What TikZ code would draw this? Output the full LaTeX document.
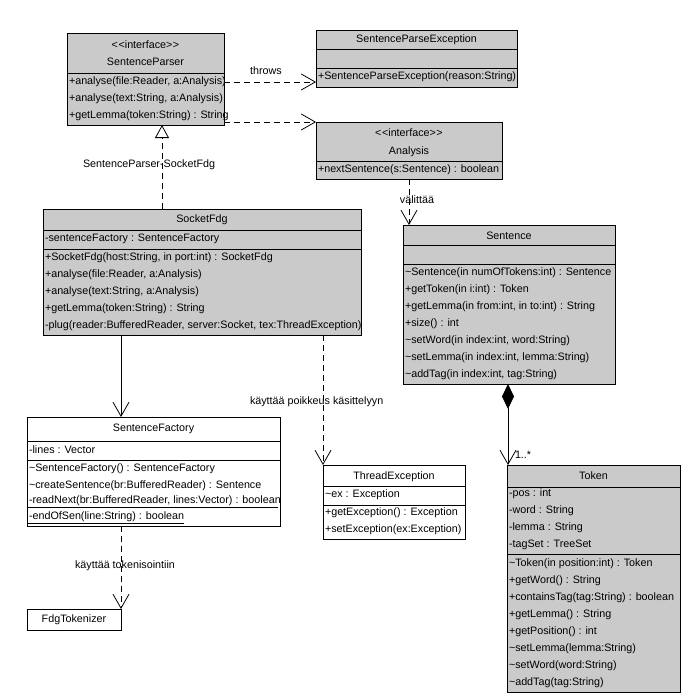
\documentclass[tikz,border=0pt]{standalone}
\usepackage{fontspec}
\setmainfont{Liberation Sans}
\usetikzlibrary{arrows.meta,calc}
\definecolor{boxgray}{RGB}{202,202,202}
\newcommand{\stereo}[1]{\textless\kern0.6pt\textless#1\textgreater\kern0.6pt\textgreater}
\begin{document}
\begin{tikzpicture}[x=1pt,y=-1pt,
  font=\fontsize{10.75}{12}\selectfont,
  box/.style={draw=black, line width=0.8pt, anchor=north west, inner sep=0pt, outer sep=0pt},
  gbox/.style={box, fill=boxgray},
  wbox/.style={box, fill=white},
  txt/.style={anchor=west, inner sep=0pt, outer sep=0pt},
  ctxt/.style={anchor=center, inner sep=0pt, outer sep=0pt},
  lbl/.style={anchor=center, inner sep=0pt, outer sep=0pt},
  sepline/.style={line width=0.8pt},
  vtip/.tip={Straight Barb[length=14pt,width=16pt,line width=0.8pt]},
  dep/.style={draw, line width=0.8pt, dash pattern=on 6pt off 4pt, -vtip},
  assoc/.style={draw, line width=0.8pt, -vtip},
  realize/.style={draw, line width=0.8pt, dash pattern=on 6pt off 4pt, -{Triangle[length=13pt,width=14pt,fill=white,line width=0.8pt]}},
  compose/.style={draw, line width=0.8pt, {Diamond[length=25pt,width=12pt,fill=black]}-vtip}
]
\useasboundingbox (0,0) rectangle (684,696);

% ---------- SentenceParser ----------
\node[gbox, minimum width=157pt, minimum height=92pt] (sp) at (67,33) {};
\node[ctxt] (sp-st) at (145.5,45) {\stereo{interface}};
\node[ctxt] (sp-n) at (145.5,62) {SentenceParser};
\draw[sepline] ($(sp.north west)+(0,40)$) -- ($(sp.north east)+(0,40)$);
\node[txt] (sp-m1) at (69,82) {+analyse(file:Reader, a:Analysis)};
\node[txt] (sp-m2) at (69,99) {+analyse(text:String, a:Analysis)};
\node[txt] (sp-m3) at (69,116) {+getLemma(token:String) : String};

% ---------- SentenceParseException ----------
\node[gbox, minimum width=201pt, minimum height=57pt] (spe) at (316,30) {};
\node[ctxt] (spe-n) at (416.5,40) {SentenceParseException};
\draw[sepline] ($(spe.north west)+(0,19)$) -- ($(spe.north east)+(0,19)$);
\draw[sepline] ($(spe.north west)+(0,38)$) -- ($(spe.north east)+(0,38)$);
\node[txt] (spe-m1) at (318,77) {+SentenceParseException(reason:String)};

% ---------- Analysis ----------
\node[gbox, minimum width=186pt, minimum height=57pt] (an) at (316,122) {};
\node[ctxt] (an-st) at (409,133) {\stereo{interface}};
\node[ctxt] (an-n) at (409,152) {Analysis};
\draw[sepline] ($(an.north west)+(0,39)$) -- ($(an.north east)+(0,39)$);
\node[txt] (an-m1) at (318,170) {+nextSentence(s:Sentence) : boolean};

% ---------- SocketFdg ----------
\node[gbox, minimum width=318pt, minimum height=126pt] (sf) at (43,209) {};
\node[ctxt] (sf-n) at (202,220) {SocketFdg};
\draw[sepline] ($(sf.north west)+(0,21)$) -- ($(sf.north east)+(0,21)$);
\node[txt] (sf-a1) at (45,239) {-sentenceFactory : SentenceFactory};
\draw[sepline] ($(sf.north west)+(0,40)$) -- ($(sf.north east)+(0,40)$);
\node[txt] (sf-m1) at (45,258) {+SocketFdg(host:String, in port:int) : SocketFdg};
\node[txt] (sf-m2) at (45,275) {+analyse(file:Reader, a:Analysis)};
\node[txt] (sf-m3) at (45,292) {+analyse(text:String, a:Analysis)};
\node[txt] (sf-m4) at (45,309) {+getLemma(token:String) : String};
\node[txt] (sf-m5) at (45,326) {-plug(reader:BufferedReader, server:Socket, tex:ThreadException)};

% ---------- Sentence ----------
\node[gbox, minimum width=212pt, minimum height=159pt] (se) at (403,225) {};
\node[ctxt] (se-n) at (509,236) {Sentence};
\draw[sepline] ($(se.north west)+(0,20)$) -- ($(se.north east)+(0,20)$);
\draw[sepline] ($(se.north west)+(0,39)$) -- ($(se.north east)+(0,39)$);
\node[txt] (se-m1) at (405,273) {\textasciitilde Sentence(in numOfTokens:int) : Sentence};
\node[txt] (se-m2) at (405,290) {+getToken(in i:int) : Token};
\node[txt] (se-m3) at (405,307) {+getLemma(in from:int, in to:int) : String};
\node[txt] (se-m4) at (405,324) {+size() : int};
\node[txt] (se-m5) at (405,341) {\textasciitilde setWord(in index:int, word:String)};
\node[txt] (se-m6) at (405,358) {\textasciitilde setLemma(in index:int, lemma:String)};
\node[txt] (se-m7) at (405,375) {\textasciitilde addTag(in index:int, tag:String)};

% ---------- SentenceFactory ----------
\node[wbox, minimum width=253pt, minimum height=109pt] (sfac) at (27,417) {};
\node[ctxt] (sfac-n) at (153.5,429) {SentenceFactory};
\draw[sepline] ($(sfac.north west)+(0,24)$) -- ($(sfac.north east)+(0,24)$);
\node[txt] (sfac-a1) at (29,450) {-lines : Vector};
\draw[sepline] ($(sfac.north west)+(0,43)$) -- ($(sfac.north east)+(0,43)$);
\node[txt] (sfac-m1) at (29,469) {\textasciitilde SentenceFactory() : SentenceFactory};
\node[txt] (sfac-m2) at (29,486) {\textasciitilde createSentence(br:BufferedReader) : Sentence};
\node[txt] (sfac-m3) at (29,501) {-readNext(br:BufferedReader, lines:Vector) : boolean};
\node[txt] (sfac-m4) at (29,517) {-endOfSen(line:String) : boolean};
\draw[sepline] (sfac-m3.south west) ++(-2,1.5) -- ($(sfac-m3.south west -| sfac.east)+(-2,1.5)$);
\draw[sepline] (sfac-m4.south west) ++(-2,1.5) -- ($(sfac-m4.south east)+(0,1.5)$);

% ---------- ThreadException ----------
\node[wbox, minimum width=142pt, minimum height=74pt] (te) at (323,465) {};
\node[ctxt] (te-n) at (394,477) {ThreadException};
\draw[sepline] ($(te.north west)+(0,21)$) -- ($(te.north east)+(0,21)$);
\node[txt] (te-a1) at (325,495) {\textasciitilde ex : Exception};
\draw[sepline] ($(te.north west)+(0,40)$) -- ($(te.north east)+(0,40)$);
\node[txt] (te-m1) at (325,513) {+getException() : Exception};
\node[txt] (te-m2) at (325,530) {+setException(ex:Exception)};

% ---------- Token ----------
\node[gbox, minimum width=173pt, minimum height=227pt] (tok) at (507,465) {};
\node[ctxt] (tok-n) at (593.5,476) {Token};
\draw[sepline] ($(tok.north west)+(0,22)$) -- ($(tok.north east)+(0,22)$);
\node[txt] (tok-a1) at (509,494) {-pos : int};
\node[txt] (tok-a2) at (509,511) {-word : String};
\node[txt] (tok-a3) at (509,528) {-lemma : String};
\node[txt] (tok-a4) at (509,545) {-tagSet : TreeSet};
\draw[sepline] ($(tok.north west)+(0,89)$) -- ($(tok.north east)+(0,89)$);
\node[txt] (tok-m1) at (509,564) {\textasciitilde Token(in position:int) : Token};
\node[txt] (tok-m2) at (509,581) {+getWord() : String};
\node[txt] (tok-m3) at (509,598) {+containsTag(tag:String) : boolean};
\node[txt] (tok-m4) at (509,615) {+getLemma() : String};
\node[txt] (tok-m5) at (509,632) {+getPosition() : int};
\node[txt] (tok-m6) at (509,649) {\textasciitilde setLemma(lemma:String)};
\node[txt] (tok-m7) at (509,666) {\textasciitilde setWord(word:String)};
\node[txt] (tok-m8) at (509,683) {\textasciitilde addTag(tag:String)};

% ---------- FdgTokenizer ----------
\node[wbox, minimum width=94pt, minimum height=21pt] (fdg) at (27,609) {};
\node[ctxt] (fdg-n) at (74,620) {FdgTokenizer};

% ---------- connectors ----------
\draw[dep] ($(sp.north east)+(0,49)$) -- ($(spe.north west)+(0,52)$);
\node[lbl] (l-throws) at (266,71) {throws};

\draw[dep] ($(sp.north east)+(0,89)$) -- (an.north west);

\draw[realize] ($(sf.north west)+(119,0)$) -- ($(sp.south west)+(95,0)$);
\node[txt] (l-real) at (83,165) {SentenceParser-SocketFdg};

\draw[dep] ($(an.south west)+(93,0)$) -- ($(se.north west)+(6,0)$);
\node[lbl] (l-valittaa) at (417,200) {välittää};

\draw[assoc] ($(sf.south west)+(78,0)$) -- ($(sfac.north west)+(94,0)$);

\draw[dep] ($(sf.south west)+(280,0)$) -- (te.north west);
\node[txt] (l-poikkeus) at (250,402) {käyttää poikkeus käsittelyyn};

\draw[compose] ($(se.south west)+(105,0)$) -- ($(tok.north west)+(1,0)$);
\node[txt] (l-mult) at (515,455) {1..*};

\draw[dep] ($(sfac.south west)+(94,0)$) -- (fdg.north east);
\node[lbl] (l-token) at (125,566) {käyttää tokenisointiin};

\end{tikzpicture}
\end{document}
